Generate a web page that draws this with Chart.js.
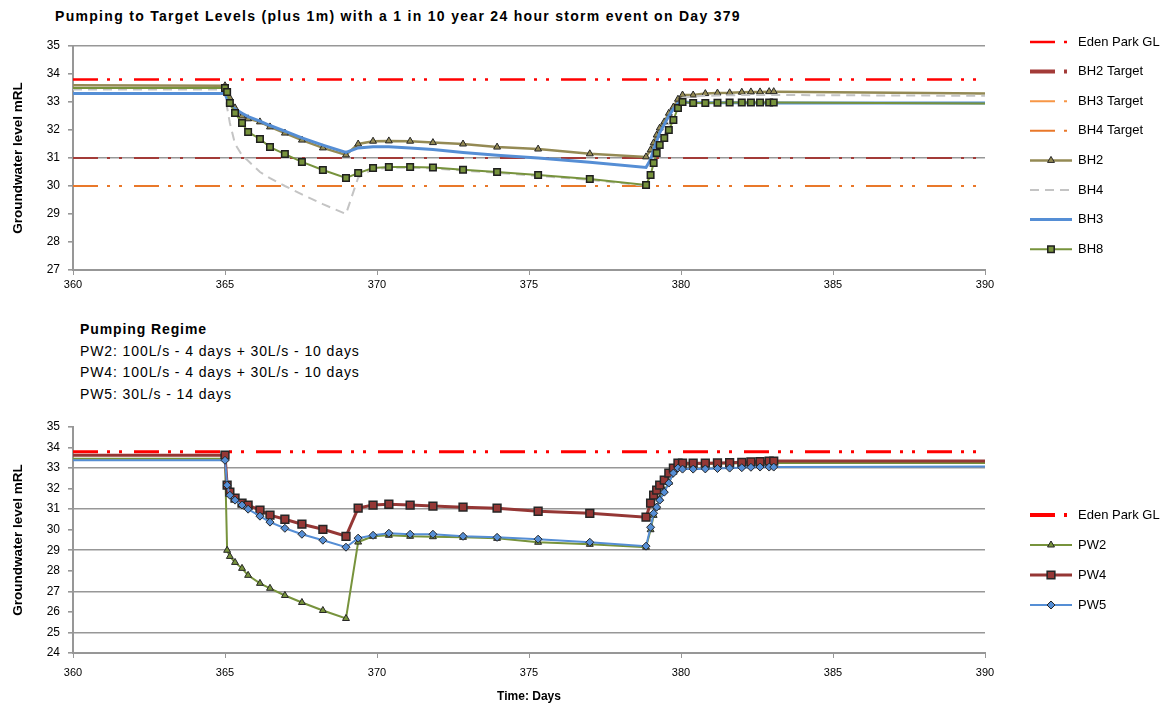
<!DOCTYPE html>
<html>
<head>
<meta charset="utf-8">
<title>Groundwater levels - pumping to target levels</title>
<script src="https://cdn.jsdelivr.net/npm/chart.js@4.4.0/dist/chart.umd.min.js"></script>
<style>
  body {
    margin: 0;
    width: 1170px;
    height: 708px;
    position: relative;
    overflow: hidden;
    background: #fff;
    font-family: "Liberation Sans", Arial, sans-serif;
    color: #000;
  }
  canvas { position: absolute; left: 0; }
  #topChart { top: 0; }
  #bottomChart { top: 400px; }
  .title {
    position: absolute;
    left: 55px;
    top: 8px;
    font-size: 14px;
    font-weight: bold;
    letter-spacing: 1.3px;
  }
  .regime {
    position: absolute;
    left: 80px;
    top: 319px;
    font-size: 14px;
    line-height: 21.5px;
    letter-spacing: 0.9px;
  }
</style>
</head>
<body>
<div class="title">Pumping to Target Levels (plus 1m) with a 1 in 10 year 24 hour storm event on Day 379</div>
<canvas id="topChart" width="1170" height="300"></canvas>
<div class="regime">
  <b>Pumping Regime</b><br>
  PW2: 100L/s - 4 days + 30L/s - 10 days<br>
  PW4: 100L/s - 4 days + 30L/s - 10 days<br>
  PW5: 30L/s - 14 days
</div>
<canvas id="bottomChart" width="1170" height="308"></canvas>

<script>
"use strict";

// model output times (days), shared by every bore / well series
const days = [
  360, 365, 365.07, 365.16, 365.33, 365.56, 365.76, 366.15, 366.48, 366.97,
  367.53, 368.22, 368.98, 369.38, 369.87, 370.39, 371.09, 371.84, 372.83, 373.95,
  375.3, 377.0, 378.85, 379.0, 379.1, 379.2, 379.3, 379.45, 379.6, 379.75,
  379.9, 380.05, 380.4, 380.8, 381.2, 381.6, 382.0, 382.3, 382.6, 382.9,
  383.05, 390,
];

// reference levels (mRL)
const edenParkGL = 33.8;
const bh2Target = 31.0;
const bh3Target = 30.0;
const bh4Target = 30.0;

// observation bores
const bh2 = [
  33.6, 33.58, 33.4, 33.14, 32.79, 32.5, 32.4, 32.29, 32.11, 31.89,
  31.64, 31.36, 31.11, 31.5, 31.6, 31.61, 31.6, 31.55, 31.5, 31.39,
  31.32, 31.15, 31.04, 31.29, 31.54, 31.82, 32.07, 32.29, 32.6, 32.82,
  33.1, 33.25, 33.25, 33.3, 33.32, 33.33, 33.35, 33.36, 33.36, 33.37,
  33.37, 33.3,
];
const bh4 = [
  33.45, 33.45, 32.8, 32.25, 31.5, 31.1, 30.9, 30.5, 30.28, 30.0,
  29.7, 29.35, 29.0, 30.3, 30.6, 30.65, 30.65, 30.63, 30.55, 30.47,
  30.36, 30.22, 30.01, 30.45, 30.85, 31.2, 31.5, 31.8, 32.2, 32.6,
  32.95, 33.15, 33.2, 33.22, 33.23, 33.24, 33.25, 33.25, 33.25, 33.25,
  33.25, 33.22,
];
const bh3 = [
  33.3, 33.3, 33.1, 32.9, 32.75, 32.6, 32.48, 32.32, 32.16, 31.96,
  31.72, 31.46, 31.2, 31.36, 31.4, 31.4, 31.36, 31.3, 31.2, 31.1,
  31.0, 30.85, 30.66, 30.95, 31.3, 31.6, 31.9, 32.2, 32.5, 32.75,
  32.95, 33.0, 32.98, 32.97, 32.97, 32.97, 32.97, 32.96, 32.96, 32.96,
  32.96, 32.96,
];
const bh8 = [
  33.5, 33.5, 33.36, 32.96, 32.61, 32.25, 31.93, 31.68, 31.39, 31.14,
  30.86, 30.57, 30.29, 30.46, 30.64, 30.68, 30.68, 30.66, 30.58, 30.5,
  30.39, 30.25, 30.04, 30.39, 30.82, 31.18, 31.46, 31.71, 32.0, 32.36,
  32.79, 33.0, 32.96, 32.96, 32.97, 32.98, 32.98, 32.98, 32.98, 32.98,
  32.98, 32.95,
];

// pumping wells
const pw2 = [
  33.45, 33.45, 29.0, 28.7, 28.41, 28.12, 27.78, 27.39, 27.15, 26.8,
  26.46, 26.07, 25.68, 29.4, 29.68, 29.73, 29.68, 29.66, 29.63, 29.58,
  29.39, 29.29, 29.15, 30.0, 30.7, 31.1, 31.5, 31.9, 32.3, 32.8,
  33.1, 33.15, 33.2, 33.2, 33.22, 33.22, 33.23, 33.24, 33.24, 33.25,
  33.25, 33.25,
];
const pw4 = [
  33.63, 33.63, 32.17, 31.83, 31.54, 31.29, 31.2, 30.95, 30.71, 30.51,
  30.27, 30.02, 29.68, 31.05, 31.2, 31.24, 31.2, 31.15, 31.1, 31.05,
  30.9, 30.8, 30.61, 31.29, 31.68, 31.93, 32.17, 32.41, 32.76, 33.0,
  33.24, 33.24, 33.24, 33.24, 33.25, 33.26, 33.28, 33.3, 33.32, 33.34,
  33.34, 33.35,
];
const pw5 = [
  33.38, 33.38, 32.17, 31.68, 31.44, 31.2, 31.0, 30.66, 30.37, 30.07,
  29.78, 29.49, 29.15, 29.59, 29.73, 29.83, 29.78, 29.78, 29.68, 29.63,
  29.54, 29.39, 29.2, 30.12, 30.8, 31.1, 31.44, 31.83, 32.27, 32.76,
  33.0, 32.95, 32.95, 32.96, 32.98, 33.0, 33.02, 33.04, 33.05, 33.05,
  33.05, 33.08,
];

// axes
const dayMin = 360;
const dayMax = 390;
const dayStep = 5;
const topLevelMin = 27;
const topLevelMax = 35;
const topGridLevels = [27, 31, 35];
const bottomLevelMin = 24;
const bottomLevelMax = 35;
const bottomGridLevels = [25, 27, 29, 31, 33];

Chart.defaults.font.family = "'Liberation Sans', Arial, sans-serif";
Chart.defaults.color = "#000";

const AXIS_GREY = "#979797";
const dashDot = [25, 9, 3, 9, 3, 12];

const toPoints = (values) => values.map((v, i) => ({ x: days[i], y: v }));
const flatLine = (level) => [
  { x: dayMin, y: level },
  { x: dayMax, y: level },
];
// no marker on the padding points at each end
const markerRadius = (r) => (c) =>
  c.dataIndex === 0 || c.dataIndex === days.length - 1 ? 0 : r;

const targetLine = (label, level, color, width) => ({
  label,
  data: flatLine(level),
  borderColor: color,
  backgroundColor: color,
  borderWidth: width,
  borderDash: dashDot,
  pointRadius: 0,
});

const drawMarker = (ctx, style, x, y, r) => {
  ctx.beginPath();
  if (style === "rect") {
    ctx.rect(x - r * 0.7, y - r * 0.7, r * 1.4, r * 1.4);
  } else if (style === "triangle") {
    ctx.moveTo(x, y - r);
    ctx.lineTo(x + r * 0.87, y + r * 0.5);
    ctx.lineTo(x - r * 0.87, y + r * 0.5);
    ctx.closePath();
  } else {
    ctx.moveTo(x, y - r);
    ctx.lineTo(x + r, y);
    ctx.lineTo(x, y + r);
    ctx.lineTo(x - r, y);
    ctx.closePath();
  }
  ctx.fill();
  ctx.stroke();
};

// legend column on the right of each chart
const sideLegend = {
  id: "sideLegend",
  afterDraw(chart, args, opts) {
    const ctx = chart.ctx;
    chart.data.datasets.forEach((ds, i) => {
      const y = opts.top + i * opts.gap;
      ctx.save();
      ctx.strokeStyle = ds.borderColor;
      ctx.lineWidth = ds.legendWidth || ds.borderWidth;
      ctx.setLineDash(ds.borderDash || []);
      ctx.beginPath();
      ctx.moveTo(opts.x, y);
      ctx.lineTo(opts.x + 42, y);
      ctx.stroke();
      ctx.setLineDash([]);
      if (ds.legendRadius) {
        ctx.fillStyle = ds.pointBackgroundColor;
        ctx.strokeStyle = ds.pointBorderColor;
        ctx.lineWidth = ds.pointBorderWidth;
        drawMarker(ctx, ds.pointStyle, opts.x + 21, y, ds.legendRadius);
      }
      ctx.fillStyle = "#000";
      ctx.font = "13px 'Liberation Sans', Arial, sans-serif";
      ctx.textBaseline = "middle";
      ctx.fillText(ds.label, opts.x + 48, y);
      ctx.restore();
    });
  },
};

const buildOptions = (cfg) => ({
  responsive: false,
  animation: false,
  events: [],
  layout: { padding: { left: 0, right: 185, top: cfg.padTop, bottom: 0 } },
  plugins: {
    legend: { display: false },
    tooltip: { enabled: false },
    sideLegend: { x: 1030, top: cfg.legendTop, gap: cfg.legendGap },
  },
  elements: { line: { tension: 0 } },
  scales: {
    x: {
      type: "linear",
      min: dayMin,
      max: dayMax,
      afterFit: (s) => { s.height = cfg.xHeight; },
      ticks: { stepSize: dayStep, font: { size: 11 }, padding: cfg.xTickPad, maxRotation: 0 },
      grid: { drawOnChartArea: false, tickLength: 5, color: AXIS_GREY },
      border: { color: AXIS_GREY, width: 2 },
      title: cfg.xTitle
        ? { display: true, text: cfg.xTitle, font: { size: 12, weight: "bold" }, padding: { top: 0, bottom: 4 } }
        : { display: false },
    },
    y: {
      min: cfg.yMin,
      max: cfg.yMax,
      afterFit: (s) => { s.width = 73; },
      ticks: { stepSize: 1, font: { size: 12 }, padding: 8 },
      grid: {
        color: (c) => (cfg.gridLevels.includes(c.tick.value) ? AXIS_GREY : "rgba(0,0,0,0)"),
        lineWidth: 1.6,
        tickLength: 5,
        tickColor: AXIS_GREY,
      },
      border: { color: AXIS_GREY, width: 2 },
      title: {
        display: true,
        text: "Groundwater level mRL",
        font: { size: 13.5, weight: "bold" },
        padding: { top: 10, bottom: 0 },
      },
    },
  },
});

// later datasets are drawn on top, as in the legend order
const stack = (datasets) => datasets.map((ds, i) => ({ ...ds, order: -i }));

const topDatasets = stack([
  targetLine("Eden Park GL", edenParkGL, "#ff0000", 2.5),
  { ...targetLine("BH2 Target", bh2Target, "#a33b38", 2), legendWidth: 4 },
  targetLine("BH3 Target", bh3Target, "#f79646", 2),
  targetLine("BH4 Target", bh4Target, "#e9782a", 2),
  {
    label: "BH2",
    data: toPoints(bh2),
    borderColor: "#948a54",
    borderWidth: 2.5,
    pointStyle: "triangle",
    pointRadius: markerRadius(4),
    pointBackgroundColor: "#948a54",
    pointBorderColor: "#262626",
    pointBorderWidth: 1,
    legendRadius: 4,
  },
  {
    label: "BH4",
    data: toPoints(bh4),
    borderColor: "#c4c4c4",
    borderWidth: 2,
    borderDash: [9, 6],
    pointRadius: 0,
  },
  {
    label: "BH3",
    data: toPoints(bh3),
    borderColor: "#558ed5",
    borderWidth: 3,
    pointRadius: 0,
  },
  {
    label: "BH8",
    data: toPoints(bh8),
    borderColor: "#77933c",
    borderWidth: 2,
    pointStyle: "rect",
    pointRadius: markerRadius(4.6),
    pointBackgroundColor: "#77933c",
    pointBorderColor: "#1f1f1f",
    pointBorderWidth: 1.5,
    legendRadius: 4.6,
  },
]);

const bottomDatasets = stack([
  { ...targetLine("Eden Park GL", edenParkGL, "#ff0000", 3), legendWidth: 4 },
  {
    label: "PW2",
    data: toPoints(pw2),
    borderColor: "#77933c",
    borderWidth: 2,
    pointStyle: "triangle",
    pointRadius: markerRadius(4),
    pointBackgroundColor: "#77933c",
    pointBorderColor: "#262626",
    pointBorderWidth: 1,
    legendRadius: 4,
  },
  {
    label: "PW4",
    data: toPoints(pw4),
    borderColor: "#953735",
    borderWidth: 3,
    pointStyle: "rect",
    pointRadius: markerRadius(5.5),
    pointBackgroundColor: "#953735",
    pointBorderColor: "#262626",
    pointBorderWidth: 1.5,
    legendRadius: 5.5,
  },
  {
    label: "PW5",
    data: toPoints(pw5),
    borderColor: "#558ed5",
    borderWidth: 2,
    pointStyle: "rectRot",
    pointRadius: markerRadius(4),
    pointBackgroundColor: "#558ed5",
    pointBorderColor: "#262626",
    pointBorderWidth: 1,
    legendRadius: 4,
  },
]);

new Chart(document.getElementById("topChart"), {
  type: "line",
  data: { datasets: topDatasets },
  options: buildOptions({
    padTop: 46,
    xHeight: 30,
    xTickPad: 3,
    yMin: topLevelMin,
    yMax: topLevelMax,
    gridLevels: topGridLevels,
    legendTop: 42,
    legendGap: 29.6,
  }),
  plugins: [sideLegend],
});

new Chart(document.getElementById("bottomChart"), {
  type: "line",
  data: { datasets: bottomDatasets },
  options: buildOptions({
    padTop: 27,
    xHeight: 55,
    xTickPad: 8,
    xTitle: "Time: Days",
    yMin: bottomLevelMin,
    yMax: bottomLevelMax,
    gridLevels: bottomGridLevels,
    legendTop: 115,
    legendGap: 30,
  }),
  plugins: [sideLegend],
});
</script>
</body>
</html>
